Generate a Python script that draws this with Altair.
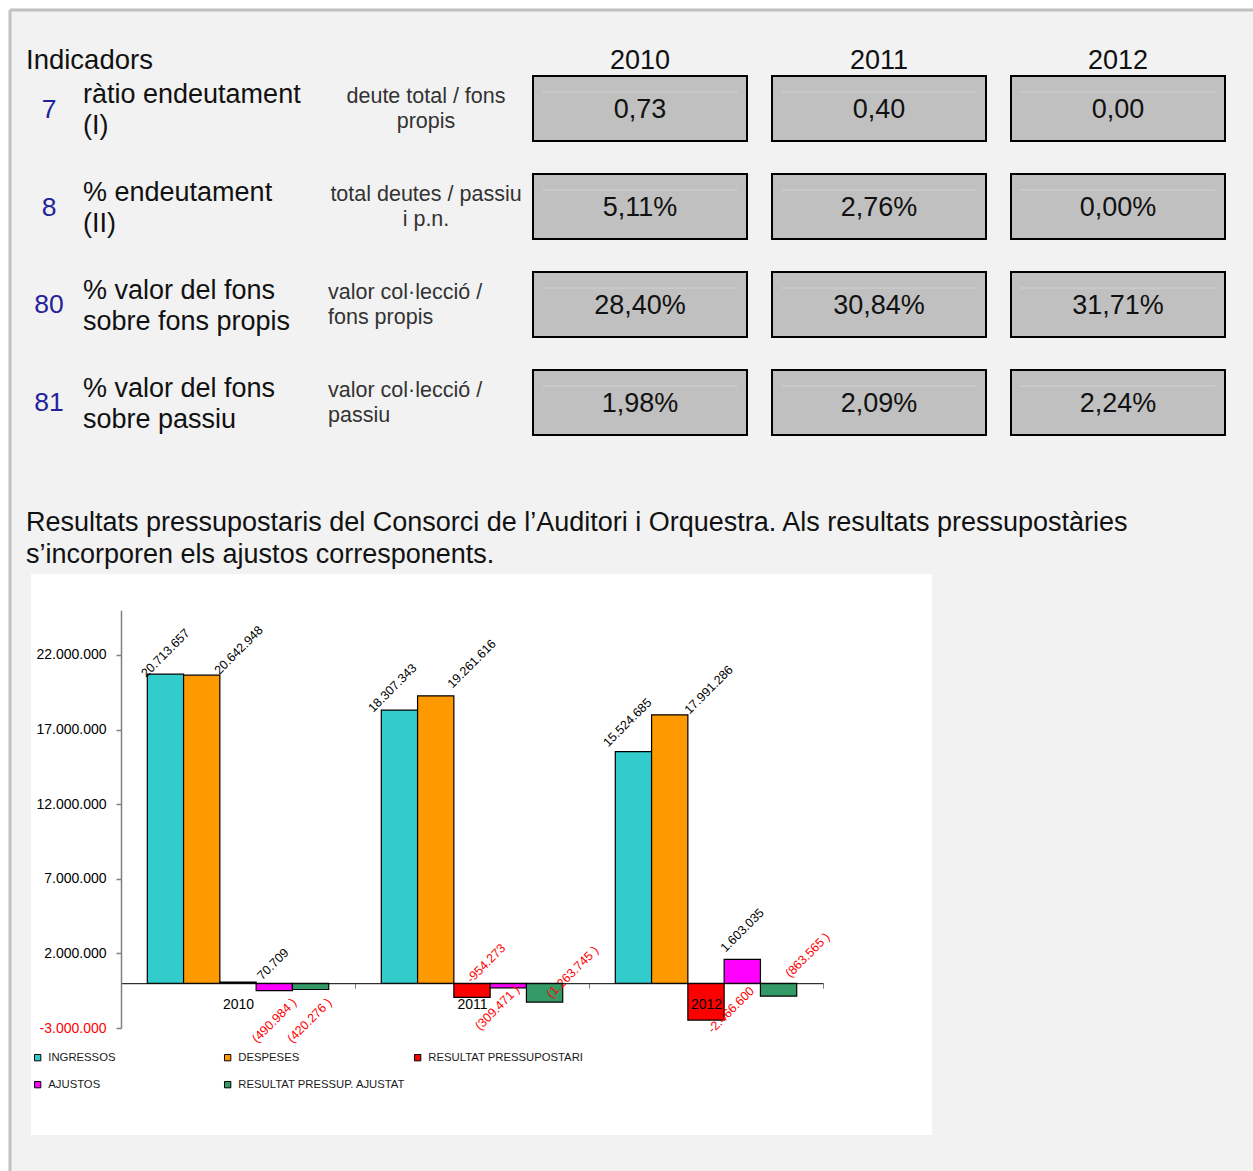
import math

import altair as alt
import pandas as pd

FONT = "Liberation Sans"
NAVY = "#22229a"

# ---------------- Indicator table ----------------
years = ["2010", "2011", "2012"]
indicator_ids = ["7", "8", "80", "81"]
indicator_names = [
    "ràtio endeutament\n(I)",
    "% endeutament\n(II)",
    "% valor del fons\nsobre fons propis",
    "% valor del fons\nsobre passiu",
]
indicator_formulas = [
    "deute total / fons\npropis",
    "total deutes / passiu\ni p.n.",
    "valor col·lecció /\nfons propis",
    "valor col·lecció /\npassiu",
]
ratio_endeutament = [0.73, 0.40, 0.00]
pct_endeutament = [5.11, 2.76, 0.00]
pct_fons_propis = [28.40, 30.84, 31.71]
pct_fons_passiu = [1.98, 2.09, 2.24]

# ---------------- Budget results ----------------
series = [
    "INGRESSOS",
    "DESPESES",
    "RESULTAT PRESSUPOSTARI",
    "AJUSTOS",
    "RESULTAT PRESSUP. AJUSTAT",
]
series_colors = ["#33CCCC", "#FF9900", "#FF0000", "#FF00FF", "#339966"]
ingressos = [20713657, 18307343, 15524685]
despeses = [20642948, 19261616, 17991286]
resultat = [70709, -954273, -2466600]
ajustos = [-490984, -309471, 1603035]
ajustat = [-420276, -1263745, -863565]
y_ticks = [-3000000, 2000000, 7000000, 12000000, 17000000, 22000000]

title_text = (
    "Resultats pressupostaris del Consorci de l\u2019Auditori i Orquestra. "
    "Als resultats pressupostàries\ns\u2019incorporen els ajustos corresponents."
)

# ---------------- tables ----------------
cells = []
for fid, vals, pct in zip(
    indicator_ids,
    [ratio_endeutament, pct_endeutament, pct_fons_propis, pct_fons_passiu],
    [False, True, True, True],
):
    for yr, v in zip(years, vals):
        txt = f"{v:.2f}".replace(".", ",") + ("%" if pct else "")
        cells.append({"fila": fid, "any": yr, "valor": v, "text": txt})
df_cells = pd.DataFrame(cells)
df_rows = pd.DataFrame(
    {
        "fila": indicator_ids,
        "nom": indicator_names,
        "formula": indicator_formulas,
        "centrat": [True, True, False, False],
    }
)
df_years = pd.DataFrame({"any": years})


def thousands(v):
    return f"{abs(v):,}".replace(",", ".")


def bar_label(serie, v):
    if v >= 0:
        return thousands(v)
    if serie in ("AJUSTOS", "RESULTAT PRESSUP. AJUSTAT"):
        return "(" + thousands(v) + " )"
    return "-" + thousands(v)


bars_rows = []
for serie, vals in zip(series, [ingressos, despeses, resultat, ajustos, ajustat]):
    for yr, v in zip(years, vals):
        bars_rows.append(
            {"any": yr, "serie": serie, "valor": v, "label": bar_label(serie, v)}
        )
df_bars = pd.DataFrame(bars_rows)

# ---------------- page frame ----------------
W, H = 1243, 1161
one = pd.DataFrame({"k": [0]})

border_top = alt.Chart(one).mark_rule(color="#c0c0c0", strokeWidth=3).encode(
    x=alt.value(0), x2=alt.value(W), y=alt.value(0)
)
border_left = alt.Chart(one).mark_rule(color="#c0c0c0", strokeWidth=3).encode(
    x=alt.value(0), y=alt.value(0), y2=alt.value(H)
)
chart_panel = alt.Chart(one).mark_rect(color="white").encode(
    x=alt.value(21), x2=alt.value(922), y=alt.value(564), y2=alt.value(1125)
)

# ---------------- indicator table ----------------
xs_t = alt.Scale(
    type="band", domain=years, range=[523, 1215], paddingInner=0.1046, paddingOuter=0
)
ys_t = alt.Scale(
    type="band",
    domain=indicator_ids,
    range=[66, 425],
    paddingInner=0.3367,
    paddingOuter=0,
)

boxes = alt.Chart(df_cells).mark_rect(
    fill="#c0c0c0", stroke="#000000", strokeWidth=2
).encode(
    x=alt.X("any:N", scale=xs_t, axis=None),
    y=alt.Y("fila:N", scale=ys_t, axis=None),
)
# light bevel line near the top of each value box
box_shine = alt.Chart(df_cells).mark_tick(
    orient="horizontal", size=195, thickness=1, color="#dadada", yOffset=-16.5
).encode(
    x=alt.X("any:N", scale=xs_t, axis=None),
    y=alt.Y("fila:N", scale=ys_t, axis=None),
)
box_text = alt.Chart(df_cells).mark_text(
    font=FONT, fontSize=27, color="#111111", baseline="middle", dy=1.5
).encode(
    x=alt.X("any:N", scale=xs_t, axis=None),
    y=alt.Y("fila:N", scale=ys_t, axis=None),
    text="text:N",
)
year_heads = alt.Chart(df_years).mark_text(
    font=FONT, fontSize=27, color="#111111", baseline="middle"
).encode(
    x=alt.X("any:N", scale=xs_t, axis=None),
    y=alt.value(51),
    text="any:N",
)
heading = alt.Chart(pd.DataFrame({"t": ["Indicadors"]})).mark_text(
    font=FONT, fontSize=27.5, color="#111111", align="left", baseline="middle"
).encode(x=alt.value(16), y=alt.value(51), text="t:N")

ids_text = alt.Chart(df_rows).mark_text(
    font=FONT, fontSize=26.5, color=NAVY, align="center", baseline="middle", dy=1
).encode(
    x=alt.value(39), y=alt.Y("fila:N", scale=ys_t, axis=None), text="fila:N"
)
names_text = alt.Chart(df_rows).mark_text(
    font=FONT,
    fontSize=27,
    color="#111111",
    align="left",
    baseline="middle",
    lineBreak="\n",
    lineHeight=31,
    dy=-13.5,
).encode(x=alt.value(73), y=alt.Y("fila:N", scale=ys_t, axis=None), text="nom:N")
formula_centered = alt.Chart(df_rows).transform_filter("datum.centrat").mark_text(
    font=FONT,
    fontSize=21.5,
    color="#333333",
    align="center",
    baseline="middle",
    lineBreak="\n",
    lineHeight=25,
    dy=-11.5,
).encode(
    x=alt.value(416), y=alt.Y("fila:N", scale=ys_t, axis=None), text="formula:N"
)
formula_left = alt.Chart(df_rows).transform_filter("!datum.centrat").mark_text(
    font=FONT,
    fontSize=21.5,
    color="#333333",
    align="left",
    baseline="middle",
    lineBreak="\n",
    lineHeight=25,
    dy=-11.5,
).encode(
    x=alt.value(318), y=alt.Y("fila:N", scale=ys_t, axis=None), text="formula:N"
)

table = alt.layer(
    boxes,
    box_shine,
    box_text,
    year_heads,
    heading,
    ids_text,
    names_text,
    formula_centered,
    formula_left,
)

# ---------------- chart title ----------------
title = alt.Chart(pd.DataFrame({"t": [title_text]})).mark_text(
    font=FONT,
    fontSize=27,
    color="#111111",
    align="left",
    baseline="middle",
    lineBreak="\n",
    lineHeight=32,
).encode(x=alt.value(16), y=alt.value(513), text="t:N")

# ---------------- grouped bar chart ----------------
zero_y = 973.2
xs_b = alt.Scale(type="band", domain=years, range=[111, 813], paddingInner=0, paddingOuter=0)
xo_b = alt.Scale(type="band", domain=series, paddingInner=0, paddingOuter=0.7245)
ys_b = alt.Scale(domain=[-3000000, 25000000], range=[1018, 600.2], nice=False, zero=False)

y_label_expr = (
    "(datum.value < 0 ? '-' : '') + "
    "replace(replace(format(abs(datum.value), ','), ',', '.'), ',', '.')"
)

bars = alt.Chart(df_bars).mark_bar(stroke="#000000", strokeWidth=1.2).encode(
    x=alt.X(
        "any:N",
        scale=xs_b,
        axis=alt.Axis(
            orient="bottom",
            offset=zero_y - H,
            title=None,
            grid=False,
            tickBand="extent",
            domainColor="#000000",
            domainWidth=1,
            tickColor="#808080",
            tickWidth=1,
            tickSize=5,
            labelAngle=0,
            labelFont=FONT,
            labelFontSize=14,
            labelColor="#000000",
            labelPadding=9,
            zindex=1,
        ),
    ),
    xOffset=alt.XOffset("serie:N", scale=xo_b),
    y=alt.Y(
        "valor:Q",
        scale=ys_b,
        axis=alt.Axis(
            orient="left",
            offset=-111,
            title=None,
            grid=False,
            values=y_ticks,
            labelExpr=y_label_expr,
            labelColor=alt.condition(
                "datum.value < 0", alt.value("#ff0000"), alt.value("#000000")
            ),
            labelFont=FONT,
            labelFontSize=14,
            labelPadding=10,
            domainColor="#808080",
            domainWidth=1.5,
            tickColor="#808080",
            tickWidth=1.5,
            tickSize=5,
            zindex=1,
        ),
    ),
    y2=alt.datum(0),
    color=alt.Color(
        "serie:N",
        scale=alt.Scale(domain=series, range=series_colors),
        legend=alt.Legend(
            title=None,
            orient="none",
            legendX=22,
            legendY=1042,
            direction="horizontal",
            columns=3,
            gridAlign="all",
            columnPadding=6,
            rowPadding=15,
            padding=0,
            symbolType="square",
            symbolSize=40,
            symbolStrokeColor="#000000",
            symbolStrokeWidth=1,
            labelFont=FONT,
            labelFontSize=11.3,
            labelColor="#1a1a1a",
            labelOffset=5,
            labelLimit=400,
        ),
    ),
)

# value labels: screen offsets (right, down) of each label from its bar end
label_nudges = {
    ("2010", "INGRESSOS"): (0, -21),
    ("2010", "DESPESES"): (37, -25),
    ("2010", "RESULTAT PRESSUPOSTARI"): (35, -18),
    ("2010", "AJUSTOS"): (0, 30),
    ("2010", "RESULTAT PRESSUP. AJUSTAT"): (-1, 31),
    ("2011", "INGRESSOS"): (-7, -22),
    ("2011", "DESPESES"): (36, -32),
    ("2011", "RESULTAT PRESSUPOSTARI"): (14, -34),
    ("2011", "AJUSTOS"): (-11, 20),
    ("2011", "RESULTAT PRESSUP. AJUSTAT"): (28, -30),
    ("2012", "INGRESSOS"): (-6, -29),
    ("2012", "DESPESES"): (39, -25),
    ("2012", "RESULTAT PRESSUPOSTARI"): (25, -10),
    ("2012", "AJUSTOS"): (0, -29),
    ("2012", "RESULTAT PRESSUP. AJUSTAT"): (29, -41),
}
sign_of = {(r["any"], r["serie"]): r["valor"] for r in bars_rows}

# the label layers keep default guides so they merge into the bar axes
label_layers = []
r2 = math.sqrt(2)
for (yr, serie), (ox, oy) in label_nudges.items():
    negative = sign_of[(yr, serie)] < 0
    label_layers.append(
        alt.Chart(df_bars)
        .transform_filter(f"datum.any == '{yr}' && datum.serie == '{serie}'")
        .mark_text(
            angle=315,
            align="center",
            baseline="middle",
            font=FONT,
            fontSize=12.5,
            color="#ff0000" if negative else "#000000",
            dx=(ox - oy) / r2,
            dy=(ox + oy) / r2,
        )
        .encode(
            x=alt.X("any:N", scale=xs_b),
            xOffset=alt.XOffset("serie:N", scale=xo_b),
            y=alt.Y("valor:Q", scale=ys_b),
            text="label:N",
        )
    )

bar_chart = alt.layer(bars, *label_layers)

chart = (
    alt.layer(border_top, border_left, chart_panel, table, title, bar_chart)
    .resolve_scale(x="independent", y="independent")
    .properties(
        width=W,
        height=H,
        padding={"left": 10, "top": 10, "right": 0, "bottom": 0},
        autosize=alt.AutoSizeParams(type="none"),
        background="white",
    )
    .configure_view(fill="#f2f2f2", strokeWidth=0)
)

chart.save("out.html", embed_options={"renderer": "svg", "actions": False})
